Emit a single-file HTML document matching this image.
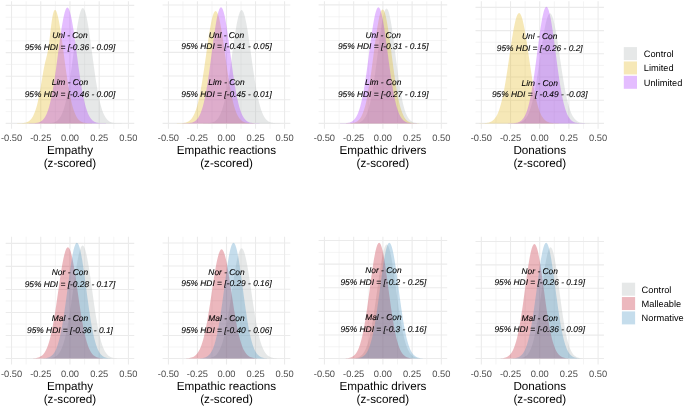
<!DOCTYPE html>
<html lang="en"><head><meta charset="utf-8"><title>Posterior densities</title>
<style>html,body{margin:0;padding:0;background:#fff}body{width:685px;height:406px;overflow:hidden}svg{display:block;will-change:transform}text{text-rendering:geometricPrecision}</style>
</head><body>
<svg width="685" height="406" viewBox="0 0 685 406" font-family="Liberation Sans, sans-serif">
<rect width="685" height="406" fill="#fff"/>
<path d="M26.13 1.3V128.85M55.36 1.3V128.85M84.58 1.3V128.85M113.81 1.3V128.85M5.67 111.6H134.27M5.67 88H134.27M5.67 64.4H134.27M5.67 40.8H134.27M5.67 17.2H134.27" stroke="#ebebeb" stroke-width="0.55" fill="none"/>
<path d="M11.52 1.3V128.85M40.75 1.3V128.85M69.97 1.3V128.85M99.2 1.3V128.85M128.42 1.3V128.85M5.67 123.4H134.27M5.67 99.8H134.27M5.67 76.2H134.27M5.67 52.6H134.27M5.67 29H134.27M5.67 5.4H134.27" stroke="#ebebeb" stroke-width="1.1" fill="none"/>
<path d="M43.64 123.4L43.64 123.38L44.51 123.37L45.38 123.36L46.25 123.35L47.12 123.32L47.99 123.29L48.86 123.25L49.73 123.19L50.6 123.1L51.47 122.99L52.34 122.84L53.21 122.65L54.08 122.4L54.95 122.07L55.82 121.65L56.69 121.11L57.56 120.44L58.43 119.61L59.3 118.58L60.17 117.33L61.05 115.82L61.92 114.02L62.79 111.89L63.66 109.39L64.53 106.51L65.4 103.21L66.27 99.47L67.14 95.28L68.01 90.65L68.88 85.59L69.75 80.13L70.62 74.3L71.49 68.17L72.36 61.82L73.23 55.33L74.1 48.81L74.97 42.38L75.84 36.15L76.71 30.26L77.58 24.83L78.45 20L79.32 15.86L80.19 12.53L81.06 10.09L81.93 8.6L82.8 8.1L83.67 8.6L84.54 10.09L85.41 12.53L86.28 15.86L87.15 20L88.02 24.83L88.89 30.26L89.76 36.15L90.63 42.38L91.5 48.81L92.37 55.33L93.24 61.82L94.11 68.17L94.98 74.3L95.85 80.13L96.72 85.59L97.59 90.65L98.46 95.28L99.33 99.47L100.2 103.21L101.07 106.51L101.94 109.39L102.81 111.89L103.68 114.02L104.55 115.82L105.43 117.33L106.3 118.58L107.17 119.61L108.04 120.44L108.91 121.11L109.78 121.65L110.65 122.07L111.52 122.4L112.39 122.65L113.26 122.84L114.13 122.99L115 123.1L115.87 123.19L116.74 123.25L117.61 123.29L118.48 123.32L119.35 123.35L120.22 123.36L121.09 123.37L121.96 123.38L121.96 123.4Z" fill="rgb(172, 178, 178)" fill-opacity="0.3"/>
<path d="M15.96 123.4L15.96 123.38L16.82 123.38L17.68 123.36L18.54 123.35L19.39 123.32L20.25 123.29L21.11 123.25L21.97 123.19L22.83 123.11L23.69 123L24.55 122.85L25.41 122.66L26.26 122.41L27.12 122.08L27.98 121.66L28.84 121.13L29.7 120.47L30.56 119.64L31.42 118.63L32.27 117.39L33.13 115.89L33.99 114.11L34.85 112L35.71 109.53L36.57 106.67L37.43 103.4L38.29 99.7L39.14 95.57L40 91.02L40.86 86.1L41.72 80.93L42.58 75.71L43.44 70.69L44.3 66.17L45.15 62.28L46.01 58.9L46.87 55.57L47.73 51.59L48.59 46.43L49.45 39.99L50.31 32.73L51.17 25.52L52.02 19.23L52.88 14.44L53.74 11.38L54.6 9.97L55.46 10.01L56.32 11.29L57.18 13.63L58.03 16.9L58.89 20.98L59.75 25.77L60.61 31.15L61.47 36.98L62.33 43.15L63.19 49.52L64.05 55.98L64.9 62.41L65.76 68.7L66.62 74.77L67.48 80.54L68.34 85.95L69.2 90.97L70.06 95.55L70.91 99.7L71.77 103.4L72.63 106.67L73.49 109.53L74.35 112L75.21 114.11L76.07 115.89L76.93 117.39L77.78 118.63L78.64 119.64L79.5 120.47L80.36 121.13L81.22 121.66L82.08 122.08L82.94 122.41L83.79 122.66L84.65 122.85L85.51 123L86.37 123.11L87.23 123.19L88.09 123.25L88.95 123.29L89.81 123.32L90.66 123.35L91.52 123.36L92.38 123.38L93.24 123.38L93.24 123.4Z" fill="rgb(225, 178, 18)" fill-opacity="0.3"/>
<path d="M28.41 123.4L28.41 123.38L29.28 123.37L30.14 123.36L31.01 123.35L31.88 123.32L32.74 123.29L33.61 123.25L34.48 123.19L35.34 123.1L36.21 122.99L37.07 122.84L37.94 122.65L38.81 122.39L39.67 122.06L40.54 121.64L41.41 121.1L42.27 120.43L43.14 119.59L44.01 118.56L44.87 117.3L45.74 115.79L46.61 113.98L47.47 111.84L48.34 109.33L49.2 106.44L50.07 103.12L50.94 99.37L51.8 95.16L52.67 90.51L53.54 85.43L54.4 79.94L55.27 74.09L56.14 67.93L57 61.55L57.87 55.04L58.74 48.49L59.6 42.03L60.47 35.77L61.33 29.86L62.2 24.41L63.07 19.55L63.93 15.4L64.8 12.05L65.67 9.6L66.53 8.1L67.4 7.6L68.27 8.1L69.13 9.6L70 12.05L70.87 15.4L71.73 19.55L72.6 24.41L73.47 29.86L74.33 35.77L75.2 42.03L76.06 48.49L76.93 55.04L77.8 61.55L78.66 67.93L79.53 74.09L80.4 79.94L81.26 85.43L82.13 90.51L83 95.16L83.86 99.37L84.73 103.12L85.6 106.44L86.46 109.33L87.33 111.84L88.19 113.98L89.06 115.79L89.93 117.3L90.79 118.56L91.66 119.59L92.53 120.43L93.39 121.1L94.26 121.64L95.13 122.06L95.99 122.39L96.86 122.65L97.73 122.84L98.59 122.99L99.46 123.1L100.32 123.19L101.19 123.25L102.06 123.29L102.92 123.32L103.79 123.35L104.66 123.36L105.52 123.37L106.39 123.38L106.39 123.4Z" fill="rgb(165, 38, 255)" fill-opacity="0.3"/>
<g font-size="8.4" font-style="italic" fill="#000" stroke="#000" stroke-width="0.1" text-anchor="middle">
<text x="69.97" y="37.9">Unl - Con</text>
<text x="69.97" y="49.7">95% HDI = [-0.36 - 0.09]</text>
<text x="69.97" y="85.1">Lim - Con</text>
<text x="69.97" y="96.9">95% HDI = [-0.46 - 0.00]</text>
</g>
<g font-size="9.3" fill="#4d4d4d" text-anchor="middle">
<text x="11.52" y="140.95">-0.50</text>
<text x="40.75" y="140.95">-0.25</text>
<text x="69.97" y="140.95">0.00</text>
<text x="99.2" y="140.95">0.25</text>
<text x="128.42" y="140.95">0.50</text>
</g>
<g font-size="11.7" fill="#000" text-anchor="middle">
<text x="69.97" y="154.25">Empathy</text>
<text x="69.97" y="166.85">(z-scored)</text>
</g>
<path d="M182.95 1.3V128.85M211.98 1.3V128.85M241.01 1.3V128.85M270.04 1.3V128.85M162.62 111.56H290.37M162.62 87.88H290.37M162.62 64.2H290.37M162.62 40.52H290.37M162.62 16.84H290.37" stroke="#ebebeb" stroke-width="0.55" fill="none"/>
<path d="M168.43 1.3V128.85M197.46 1.3V128.85M226.5 1.3V128.85M255.53 1.3V128.85M284.56 1.3V128.85M162.62 123.4H290.37M162.62 99.72H290.37M162.62 76.04H290.37M162.62 52.36H290.37M162.62 28.68H290.37M162.62 5H290.37" stroke="#ebebeb" stroke-width="1.1" fill="none"/>
<path d="M201.75 123.4L201.75 123.38L202.64 123.38L203.52 123.36L204.41 123.35L205.29 123.33L206.18 123.29L207.06 123.25L207.95 123.19L208.83 123.11L209.72 123L210.61 122.85L211.49 122.66L212.38 122.41L213.26 122.09L214.15 121.68L215.03 121.15L215.92 120.49L216.8 119.67L217.69 118.67L218.58 117.44L219.46 115.95L220.35 114.18L221.23 112.09L222.12 109.64L223 106.8L223.89 103.56L224.77 99.88L225.66 95.77L226.55 91.22L227.43 86.25L228.32 80.88L229.2 75.15L230.09 69.13L230.97 62.89L231.86 56.51L232.74 50.11L233.63 43.78L234.52 37.66L235.4 31.87L236.29 26.54L237.17 21.79L238.06 17.73L238.94 14.46L239.83 12.06L240.71 10.59L241.6 10.1L242.49 10.59L243.37 12.06L244.26 14.46L245.14 17.73L246.03 21.79L246.91 26.54L247.8 31.87L248.68 37.66L249.57 43.78L250.46 50.11L251.34 56.51L252.23 62.89L253.11 69.13L254 75.15L254.88 80.88L255.77 86.25L256.65 91.22L257.54 95.77L258.43 99.88L259.31 103.56L260.2 106.8L261.08 109.64L261.97 112.09L262.85 114.18L263.74 115.95L264.62 117.44L265.51 118.67L266.4 119.67L267.28 120.49L268.17 121.15L269.05 121.68L269.94 122.09L270.82 122.41L271.71 122.66L272.59 122.85L273.48 123L274.37 123.11L275.25 123.19L276.14 123.25L277.02 123.29L277.91 123.33L278.79 123.35L279.68 123.36L280.56 123.38L281.45 123.38L281.45 123.4Z" fill="rgb(172, 178, 178)" fill-opacity="0.3"/>
<path d="M175.43 123.4L175.43 123.38L176.32 123.38L177.22 123.36L178.11 123.35L179 123.33L179.89 123.29L180.79 123.25L181.68 123.19L182.57 123.11L183.46 123L184.36 122.86L185.25 122.67L186.14 122.42L187.04 122.1L187.93 121.69L188.82 121.17L189.71 120.52L190.61 119.7L191.5 118.7L192.39 117.48L193.28 116.01L194.18 114.25L195.07 112.18L195.96 109.75L196.85 106.93L197.75 103.72L198.64 100.07L199.53 95.99L200.43 91.48L201.32 86.54L202.21 81.22L203.1 75.54L204 69.56L204.89 63.37L205.78 57.04L206.67 50.69L207.57 44.41L208.46 38.34L209.35 32.6L210.24 27.31L211.14 22.6L212.03 18.57L212.92 15.32L213.81 12.94L214.71 11.49L215.6 11L216.49 11.49L217.39 12.94L218.28 15.32L219.17 18.57L220.06 22.6L220.96 27.31L221.85 32.6L222.74 38.34L223.63 44.41L224.53 50.69L225.42 57.04L226.31 63.37L227.2 69.56L228.1 75.54L228.99 81.22L229.88 86.54L230.77 91.48L231.67 95.99L232.56 100.07L233.45 103.72L234.35 106.93L235.24 109.75L236.13 112.18L237.02 114.25L237.92 116.01L238.81 117.48L239.7 118.7L240.59 119.7L241.49 120.52L242.38 121.17L243.27 121.69L244.16 122.1L245.06 122.42L245.95 122.67L246.84 122.86L247.74 123L248.63 123.11L249.52 123.19L250.41 123.25L251.31 123.29L252.2 123.33L253.09 123.35L253.98 123.36L254.88 123.38L255.77 123.38L255.77 123.4Z" fill="rgb(225, 178, 18)" fill-opacity="0.3"/>
<path d="M182.11 123.4L182.11 123.38L182.98 123.37L183.84 123.36L184.7 123.35L185.57 123.32L186.43 123.29L187.3 123.25L188.16 123.18L189.02 123.1L189.89 122.99L190.75 122.84L191.62 122.64L192.48 122.39L193.35 122.06L194.21 121.63L195.07 121.1L195.94 120.42L196.8 119.58L197.67 118.55L198.53 117.29L199.4 115.77L200.26 113.95L201.12 111.81L201.99 109.3L202.85 106.39L203.72 103.07L204.58 99.3L205.44 95.09L206.31 90.43L207.17 85.33L208.04 79.83L208.9 73.96L209.77 67.79L210.63 61.39L211.49 54.86L212.36 48.29L213.22 41.81L214.09 35.54L214.95 29.61L215.81 24.15L216.68 19.28L217.54 15.12L218.41 11.76L219.27 9.31L220.14 7.8L221 7.3L221.86 7.8L222.73 9.31L223.59 11.76L224.46 15.12L225.32 19.28L226.19 24.15L227.05 29.61L227.91 35.54L228.78 41.81L229.64 48.29L230.51 54.86L231.37 61.39L232.23 67.79L233.1 73.96L233.96 79.83L234.83 85.33L235.69 90.43L236.56 95.09L237.42 99.3L238.28 103.07L239.15 106.39L240.01 109.3L240.88 111.81L241.74 113.95L242.6 115.77L243.47 117.29L244.33 118.55L245.2 119.58L246.06 120.42L246.93 121.1L247.79 121.63L248.65 122.06L249.52 122.39L250.38 122.64L251.25 122.84L252.11 122.99L252.98 123.1L253.84 123.18L254.7 123.25L255.57 123.29L256.43 123.32L257.3 123.35L258.16 123.36L259.02 123.37L259.89 123.38L259.89 123.4Z" fill="rgb(165, 38, 255)" fill-opacity="0.3"/>
<g font-size="8.4" font-style="italic" fill="#000" stroke="#000" stroke-width="0.1" text-anchor="middle">
<text x="226.5" y="37.6">Unl - Con</text>
<text x="226.5" y="49.44">95% HDI = [-0.41 - 0.05]</text>
<text x="226.5" y="84.96">Lim - Con</text>
<text x="226.5" y="96.8">95% HDI = [-0.45 - 0.01]</text>
</g>
<g font-size="9.3" fill="#4d4d4d" text-anchor="middle">
<text x="168.43" y="140.95">-0.50</text>
<text x="197.46" y="140.95">-0.25</text>
<text x="226.5" y="140.95">0.00</text>
<text x="255.53" y="140.95">0.25</text>
<text x="284.56" y="140.95">0.50</text>
</g>
<g font-size="11.7" fill="#000" text-anchor="middle">
<text x="226.5" y="154.25">Empathic reactions</text>
<text x="226.5" y="166.85">(z-scored)</text>
</g>
<path d="M339.06 1.3V128.85M368.29 1.3V128.85M397.51 1.3V128.85M426.74 1.3V128.85M318.6 111.55H447.19M318.6 87.85H447.19M318.6 64.15H447.19M318.6 40.45H447.19M318.6 16.75H447.19" stroke="#ebebeb" stroke-width="0.55" fill="none"/>
<path d="M324.45 1.3V128.85M353.68 1.3V128.85M382.9 1.3V128.85M412.12 1.3V128.85M441.35 1.3V128.85M318.6 123.4H447.19M318.6 99.7H447.19M318.6 76H447.19M318.6 52.3H447.19M318.6 28.6H447.19M318.6 4.9H447.19" stroke="#ebebeb" stroke-width="1.1" fill="none"/>
<path d="M349.54 123.4L349.54 123.38L350.36 123.37L351.18 123.36L352 123.35L352.83 123.32L353.65 123.29L354.47 123.25L355.29 123.19L356.11 123.1L356.93 122.99L357.75 122.85L358.57 122.65L359.4 122.4L360.22 122.07L361.04 121.65L361.86 121.12L362.68 120.45L363.5 119.62L364.32 118.59L365.15 117.35L365.97 115.84L366.79 114.04L367.61 111.92L368.43 109.43L369.25 106.55L370.07 103.26L370.89 99.53L371.72 95.36L372.54 90.74L373.36 85.69L374.18 80.24L375 74.43L375.82 68.32L376.64 61.98L377.47 55.51L378.29 49.01L379.11 42.59L379.93 36.38L380.75 30.5L381.57 25.09L382.39 20.26L383.21 16.14L384.04 12.82L384.86 10.39L385.68 8.9L386.5 8.4L387.32 8.9L388.14 10.39L388.96 12.82L389.79 16.14L390.61 20.26L391.43 25.09L392.25 30.5L393.07 36.38L393.89 42.59L394.71 49.01L395.53 55.51L396.36 61.98L397.18 68.32L398 74.43L398.82 80.24L399.64 85.69L400.46 90.74L401.28 95.36L402.11 99.53L402.93 103.26L403.75 106.55L404.57 109.43L405.39 111.92L406.21 114.04L407.03 115.84L407.85 117.35L408.68 118.59L409.5 119.62L410.32 120.45L411.14 121.12L411.96 121.65L412.78 122.07L413.6 122.4L414.43 122.65L415.25 122.85L416.07 122.99L416.89 123.1L417.71 123.19L418.53 123.25L419.35 123.29L420.17 123.32L421 123.35L421.82 123.36L422.64 123.37L423.46 123.38L423.46 123.4Z" fill="rgb(172, 178, 178)" fill-opacity="0.3"/>
<path d="M344.8 123.4L344.8 123.38L345.64 123.38L346.48 123.36L347.32 123.35L348.16 123.32L349 123.29L349.84 123.25L350.68 123.19L351.52 123.11L352.36 123L353.2 122.85L354.04 122.66L354.88 122.41L355.72 122.08L356.56 121.67L357.4 121.14L358.24 120.48L359.08 119.65L359.92 118.64L360.76 117.4L361.6 115.91L362.44 114.12L363.28 112.02L364.12 109.55L364.96 106.7L365.8 103.44L366.64 99.74L367.48 95.6L368.32 91.02L369.16 86.02L370 80.61L370.84 74.85L371.68 68.8L372.52 62.51L373.36 56.1L374.2 49.65L375.04 43.29L375.88 37.13L376.72 31.31L377.56 25.94L378.4 21.16L379.24 17.07L380.08 13.78L380.92 11.37L381.76 9.9L382.6 9.4L383.44 9.9L384.28 11.37L385.12 13.78L385.96 17.07L386.8 21.16L387.64 25.94L388.48 31.31L389.32 37.13L390.16 43.29L391 49.65L391.84 56.1L392.68 62.51L393.52 68.8L394.36 74.85L395.2 80.61L396.04 86.02L396.88 91.02L397.72 95.6L398.56 99.74L399.4 103.44L400.24 106.7L401.08 109.55L401.92 112.02L402.76 114.12L403.6 115.91L404.44 117.4L405.28 118.64L406.12 119.65L406.96 120.48L407.8 121.14L408.64 121.67L409.48 122.08L410.32 122.41L411.16 122.66L412 122.85L412.84 123L413.68 123.11L414.52 123.19L415.36 123.25L416.2 123.29L417.04 123.32L417.88 123.35L418.72 123.36L419.56 123.38L420.4 123.38L420.4 123.4Z" fill="rgb(225, 178, 18)" fill-opacity="0.3"/>
<path d="M339.51 123.4L339.51 123.38L340.38 123.37L341.24 123.36L342.1 123.35L342.97 123.32L343.83 123.29L344.7 123.25L345.56 123.18L346.42 123.1L347.29 122.99L348.15 122.84L349.02 122.64L349.88 122.39L350.75 122.06L351.61 121.63L352.47 121.1L353.34 120.42L354.2 119.58L355.07 118.55L355.93 117.29L356.8 115.77L357.66 113.95L358.52 111.81L359.39 109.3L360.25 106.39L361.12 103.07L361.98 99.3L362.84 95.09L363.71 90.43L364.57 85.33L365.44 79.83L366.3 73.96L367.17 67.79L368.03 61.39L368.89 54.86L369.76 48.29L370.62 41.81L371.49 35.54L372.35 29.61L373.21 24.15L374.08 19.28L374.94 15.12L375.81 11.76L376.67 9.31L377.54 7.8L378.4 7.3L379.26 7.8L380.13 9.31L380.99 11.76L381.86 15.12L382.72 19.28L383.59 24.15L384.45 29.61L385.31 35.54L386.18 41.81L387.04 48.29L387.91 54.86L388.77 61.39L389.63 67.79L390.5 73.96L391.36 79.83L392.23 85.33L393.09 90.43L393.96 95.09L394.82 99.3L395.68 103.07L396.55 106.39L397.41 109.3L398.28 111.81L399.14 113.95L400 115.77L400.87 117.29L401.73 118.55L402.6 119.58L403.46 120.42L404.33 121.1L405.19 121.63L406.05 122.06L406.92 122.39L407.78 122.64L408.65 122.84L409.51 122.99L410.38 123.1L411.24 123.18L412.1 123.25L412.97 123.29L413.83 123.32L414.7 123.35L415.56 123.36L416.42 123.37L417.29 123.38L417.29 123.4Z" fill="rgb(165, 38, 255)" fill-opacity="0.3"/>
<g font-size="8.4" font-style="italic" fill="#000" stroke="#000" stroke-width="0.1" text-anchor="middle">
<text x="383.2" y="37.53">Unl - Con</text>
<text x="383.2" y="49.38">95% HDI = [-0.31 - 0.15]</text>
<text x="383.2" y="84.93">Lim - Con</text>
<text x="383.2" y="96.78">95% HDI = [-0.27 - 0.19]</text>
</g>
<g font-size="9.3" fill="#4d4d4d" text-anchor="middle">
<text x="324.45" y="140.95">-0.50</text>
<text x="353.68" y="140.95">-0.25</text>
<text x="382.9" y="140.95">0.00</text>
<text x="412.12" y="140.95">0.25</text>
<text x="441.35" y="140.95">0.50</text>
</g>
<g font-size="11.7" fill="#000" text-anchor="middle">
<text x="382.9" y="154.25">Empathic drivers</text>
<text x="382.9" y="166.85">(z-scored)</text>
</g>
<path d="M495.94 1.3V128.85M525.13 1.3V128.85M554.32 1.3V128.85M583.51 1.3V128.85M475.51 111.8H603.94M475.51 88.6H603.94M475.51 65.4H603.94M475.51 42.2H603.94M475.51 19H603.94" stroke="#ebebeb" stroke-width="0.55" fill="none"/>
<path d="M481.35 1.3V128.85M510.54 1.3V128.85M539.73 1.3V128.85M568.91 1.3V128.85M598.1 1.3V128.85M475.51 123.4H603.94M475.51 100.2H603.94M475.51 77H603.94M475.51 53.8H603.94M475.51 30.6H603.94M475.51 7.4H603.94" stroke="#ebebeb" stroke-width="1.1" fill="none"/>
<path d="M508.99 123.4L508.99 123.38L509.9 123.38L510.81 123.36L511.73 123.35L512.64 123.33L513.55 123.3L514.46 123.25L515.37 123.2L516.28 123.12L517.19 123.01L518.1 122.87L519.02 122.68L519.93 122.44L520.84 122.13L521.75 121.73L522.66 121.22L523.57 120.58L524.48 119.78L525.4 118.8L526.31 117.6L527.22 116.16L528.13 114.44L529.04 112.41L529.95 110.03L530.86 107.27L531.77 104.12L532.69 100.55L533.6 96.55L534.51 92.13L535.42 87.3L536.33 82.08L537.24 76.51L538.15 70.66L539.06 64.6L539.98 58.4L540.89 52.18L541.8 46.03L542.71 40.08L543.62 34.46L544.53 29.28L545.44 24.66L546.35 20.71L547.27 17.53L548.18 15.2L549.09 13.78L550 13.3L550.91 13.78L551.82 15.2L552.73 17.53L553.65 20.71L554.56 24.66L555.47 29.28L556.38 34.46L557.29 40.08L558.2 46.03L559.11 52.18L560.02 58.4L560.94 64.6L561.85 70.66L562.76 76.51L563.67 82.08L564.58 87.3L565.49 92.13L566.4 96.55L567.31 100.55L568.23 104.12L569.14 107.27L570.05 110.03L570.96 112.41L571.87 114.44L572.78 116.16L573.69 117.6L574.6 118.8L575.52 119.78L576.43 120.58L577.34 121.22L578.25 121.73L579.16 122.13L580.07 122.44L580.98 122.68L581.9 122.87L582.81 123.01L583.72 123.12L584.63 123.2L585.54 123.25L586.45 123.3L587.36 123.33L588.27 123.35L589.19 123.36L590.1 123.38L591.01 123.38L591.01 123.4Z" fill="rgb(172, 178, 178)" fill-opacity="0.3"/>
<path d="M478.2 123.4L478.2 123.38L479.11 123.38L480.02 123.36L480.93 123.35L481.84 123.33L482.75 123.3L483.66 123.25L484.56 123.2L485.47 123.12L486.38 123.01L487.29 122.87L488.2 122.68L489.11 122.44L490.02 122.12L490.93 121.72L491.84 121.21L492.74 120.57L493.65 119.77L494.56 118.79L495.47 117.59L496.38 116.14L497.29 114.42L498.2 112.38L499.11 109.99L500.01 107.23L500.92 104.07L501.83 100.49L502.74 96.48L503.65 92.05L504.56 87.2L505.47 81.97L506.38 76.39L507.29 70.52L508.19 64.44L509.1 58.22L510.01 51.98L510.92 45.82L511.83 39.86L512.74 34.22L513.65 29.02L514.56 24.39L515.46 20.43L516.37 17.24L517.28 14.91L518.19 13.48L519.1 13L520.01 13.48L520.92 14.91L521.83 17.24L522.74 20.43L523.64 24.39L524.55 29.02L525.46 34.22L526.37 39.86L527.28 45.82L528.19 51.98L529.1 58.22L530.01 64.44L530.91 70.52L531.82 76.39L532.73 81.97L533.64 87.2L534.55 92.05L535.46 96.48L536.37 100.49L537.28 104.07L538.19 107.23L539.09 109.99L540 112.38L540.91 114.42L541.82 116.14L542.73 117.59L543.64 118.79L544.55 119.77L545.46 120.57L546.36 121.21L547.27 121.72L548.18 122.12L549.09 122.44L550 122.68L550.91 122.87L551.82 123.01L552.73 123.12L553.64 123.2L554.54 123.25L555.45 123.3L556.36 123.33L557.27 123.35L558.18 123.36L559.09 123.38L560 123.38L560 123.4Z" fill="rgb(225, 178, 18)" fill-opacity="0.3"/>
<path d="M507.68 123.4L507.68 123.38L508.54 123.37L509.4 123.36L510.26 123.35L511.12 123.32L511.98 123.29L512.84 123.25L513.7 123.18L514.56 123.1L515.42 122.99L516.28 122.84L517.14 122.64L518 122.38L518.86 122.05L519.72 121.63L520.59 121.09L521.45 120.41L522.31 119.57L523.17 118.53L524.03 117.26L524.89 115.74L525.75 113.91L526.61 111.76L527.47 109.24L528.33 106.32L529.19 102.98L530.05 99.2L530.91 94.97L531.77 90.28L532.63 85.17L533.49 79.64L534.35 73.75L535.21 67.55L536.07 61.13L536.93 54.56L537.8 47.97L538.66 41.46L539.52 35.17L540.38 29.21L541.24 23.72L542.1 18.83L542.96 14.65L543.82 11.28L544.68 8.81L545.54 7.31L546.4 6.8L547.26 7.31L548.12 8.81L548.98 11.28L549.84 14.65L550.7 18.83L551.56 23.72L552.42 29.21L553.28 35.17L554.14 41.46L555 47.97L555.87 54.56L556.73 61.13L557.59 67.55L558.45 73.75L559.31 79.64L560.17 85.17L561.03 90.28L561.89 94.97L562.75 99.2L563.61 102.98L564.47 106.32L565.33 109.24L566.19 111.76L567.05 113.91L567.91 115.74L568.77 117.26L569.63 118.53L570.49 119.57L571.35 120.41L572.21 121.09L573.08 121.63L573.94 122.05L574.8 122.38L575.66 122.64L576.52 122.84L577.38 122.99L578.24 123.1L579.1 123.18L579.96 123.25L580.82 123.29L581.68 123.32L582.54 123.35L583.4 123.36L584.26 123.37L585.12 123.38L585.12 123.4Z" fill="rgb(165, 38, 255)" fill-opacity="0.3"/>
<g font-size="8.4" font-style="italic" fill="#000" stroke="#000" stroke-width="0.1" text-anchor="middle">
<text x="539.73" y="39.4">Unl - Con</text>
<text x="539.73" y="51">95% HDI = [-0.26 - 0.2]</text>
<text x="539.73" y="85.8">Lim - Con</text>
<text x="539.73" y="97.4">95% HDI = [ -0.49 - -0.03]</text>
</g>
<g font-size="9.3" fill="#4d4d4d" text-anchor="middle">
<text x="481.35" y="140.95">-0.50</text>
<text x="510.54" y="140.95">-0.25</text>
<text x="539.73" y="140.95">0.00</text>
<text x="568.91" y="140.95">0.25</text>
<text x="598.1" y="140.95">0.50</text>
</g>
<g font-size="11.7" fill="#000" text-anchor="middle">
<text x="539.73" y="154.25">Donations</text>
<text x="539.73" y="166.85">(z-scored)</text>
</g>
<path d="M26.13 236.75V364.5M55.36 236.75V364.5M84.58 236.75V364.5M113.81 236.75V364.5M5.67 347.03H134.27M5.67 323.99H134.27M5.67 300.95H134.27M5.67 277.91H134.27M5.67 254.87H134.27" stroke="#ebebeb" stroke-width="0.55" fill="none"/>
<path d="M11.52 236.75V364.5M40.75 236.75V364.5M69.97 236.75V364.5M99.2 236.75V364.5M128.42 236.75V364.5M5.67 358.55H134.27M5.67 335.51H134.27M5.67 312.47H134.27M5.67 289.43H134.27M5.67 266.39H134.27M5.67 243.35H134.27" stroke="#ebebeb" stroke-width="1.1" fill="none"/>
<path d="M42.63 358.55L42.63 358.53L43.51 358.53L44.4 358.51L45.29 358.5L46.18 358.48L47.07 358.44L47.96 358.4L48.84 358.34L49.73 358.26L50.62 358.15L51.51 358.01L52.4 357.82L53.29 357.57L54.17 357.24L55.06 356.83L55.95 356.31L56.84 355.65L57.73 354.84L58.62 353.83L59.5 352.6L60.39 351.13L61.28 349.36L62.17 347.27L63.06 344.83L63.95 342L64.83 338.77L65.72 335.11L66.61 331.01L67.5 326.47L68.39 321.51L69.28 316.16L70.16 310.45L71.05 304.45L71.94 298.23L72.83 291.87L73.72 285.48L74.61 279.18L75.49 273.08L76.38 267.31L77.27 261.99L78.16 257.25L79.05 253.2L79.94 249.94L80.82 247.55L81.71 246.09L82.6 245.6L83.49 246.09L84.38 247.55L85.26 249.94L86.15 253.2L87.04 257.25L87.93 261.99L88.82 267.31L89.71 273.08L90.59 279.18L91.48 285.48L92.37 291.87L93.26 298.23L94.15 304.45L95.04 310.45L95.92 316.16L96.81 321.51L97.7 326.47L98.59 331.01L99.48 335.11L100.37 338.77L101.25 342L102.14 344.83L103.03 347.27L103.92 349.36L104.81 351.13L105.7 352.6L106.58 353.83L107.47 354.84L108.36 355.65L109.25 356.31L110.14 356.83L111.03 357.24L111.91 357.57L112.8 357.82L113.69 358.01L114.58 358.15L115.47 358.26L116.36 358.34L117.24 358.4L118.13 358.44L119.02 358.48L119.91 358.5L120.8 358.51L121.69 358.53L122.57 358.53L122.57 358.55Z" fill="rgb(172, 178, 178)" fill-opacity="0.3"/>
<path d="M27.35 358.55L27.35 358.53L28.25 358.53L29.15 358.51L30.06 358.5L30.96 358.48L31.86 358.45L32.76 358.4L33.66 358.34L34.56 358.26L35.46 358.16L36.36 358.01L37.26 357.83L38.16 357.58L39.07 357.26L39.97 356.86L40.87 356.34L41.77 355.69L42.67 354.89L43.57 353.9L44.47 352.69L45.37 351.23L46.27 349.49L47.18 347.43L48.08 345.02L48.98 342.24L49.88 339.05L50.78 335.44L51.68 331.4L52.58 326.93L53.48 322.04L54.38 316.76L55.29 311.13L56.19 305.22L57.09 299.08L57.99 292.81L58.89 286.52L59.79 280.3L60.69 274.29L61.59 268.6L62.49 263.36L63.39 258.69L64.3 254.7L65.2 251.48L66.1 249.12L67 247.68L67.9 247.2L68.8 247.68L69.7 249.12L70.6 251.48L71.5 254.7L72.41 258.69L73.31 263.36L74.21 268.6L75.11 274.29L76.01 280.3L76.91 286.52L77.81 292.81L78.71 299.08L79.61 305.22L80.51 311.13L81.42 316.76L82.32 322.04L83.22 326.93L84.12 331.4L85.02 335.44L85.92 339.05L86.82 342.24L87.72 345.02L88.62 347.43L89.53 349.49L90.43 351.23L91.33 352.69L92.23 353.9L93.13 354.89L94.03 355.69L94.93 356.34L95.83 356.86L96.73 357.26L97.64 357.58L98.54 357.83L99.44 358.01L100.34 358.16L101.24 358.26L102.14 358.34L103.04 358.4L103.94 358.45L104.84 358.48L105.74 358.5L106.65 358.51L107.55 358.53L108.45 358.53L108.45 358.55Z" fill="rgb(192, 20, 40)" fill-opacity="0.3"/>
<path d="M37.89 358.55L37.89 358.53L38.76 358.52L39.63 358.51L40.49 358.5L41.36 358.47L42.23 358.44L43.09 358.4L43.96 358.34L44.83 358.25L45.69 358.14L46.56 357.99L47.43 357.8L48.3 357.54L49.16 357.21L50.03 356.79L50.9 356.25L51.76 355.58L52.63 354.74L53.5 353.71L54.36 352.46L55.23 350.94L56.1 349.13L56.96 346.99L57.83 344.49L58.7 341.59L59.56 338.28L60.43 334.53L61.3 330.32L62.16 325.68L63.03 320.59L63.9 315.11L64.76 309.26L65.63 303.11L66.5 296.73L67.37 290.22L68.23 283.67L69.1 277.21L69.97 270.96L70.83 265.05L71.7 259.6L72.57 254.74L73.43 250.59L74.3 247.25L75.17 244.8L76.03 243.3L76.9 242.8L77.77 243.3L78.63 244.8L79.5 247.25L80.37 250.59L81.23 254.74L82.1 259.6L82.97 265.05L83.83 270.96L84.7 277.21L85.57 283.67L86.43 290.22L87.3 296.73L88.17 303.11L89.04 309.26L89.9 315.11L90.77 320.59L91.64 325.68L92.5 330.32L93.37 334.53L94.24 338.28L95.1 341.59L95.97 344.49L96.84 346.99L97.7 349.13L98.57 350.94L99.44 352.46L100.3 353.71L101.17 354.74L102.04 355.58L102.9 356.25L103.77 356.79L104.64 357.21L105.5 357.54L106.37 357.8L107.24 357.99L108.11 358.14L108.97 358.25L109.84 358.34L110.71 358.4L111.57 358.44L112.44 358.47L113.31 358.5L114.17 358.51L115.04 358.52L115.91 358.53L115.91 358.55Z" fill="rgb(62, 142, 192)" fill-opacity="0.3"/>
<g font-size="8.4" font-style="italic" fill="#000" stroke="#000" stroke-width="0.1" text-anchor="middle">
<text x="69.97" y="275.15">Nor - Con</text>
<text x="69.97" y="286.67">95% HDI = [-0.28 - 0.17]</text>
<text x="69.97" y="321.23">Mal - Con</text>
<text x="69.97" y="332.75">95% HDI = [-0.36 - 0.1]</text>
</g>
<g font-size="9.3" fill="#4d4d4d" text-anchor="middle">
<text x="11.52" y="376.6">-0.50</text>
<text x="40.75" y="376.6">-0.25</text>
<text x="69.97" y="376.6">0.00</text>
<text x="99.2" y="376.6">0.25</text>
<text x="128.42" y="376.6">0.50</text>
</g>
<g font-size="11.7" fill="#000" text-anchor="middle">
<text x="69.97" y="389.9">Empathy</text>
<text x="69.97" y="402.5">(z-scored)</text>
</g>
<path d="M182.95 236.75V364.5M211.98 236.75V364.5M241.01 236.75V364.5M270.04 236.75V364.5M162.62 346.99H290.37M162.62 323.87H290.37M162.62 300.75H290.37M162.62 277.63H290.37M162.62 254.51H290.37" stroke="#ebebeb" stroke-width="0.55" fill="none"/>
<path d="M168.43 236.75V364.5M197.46 236.75V364.5M226.5 236.75V364.5M255.53 236.75V364.5M284.56 236.75V364.5M162.62 358.55H290.37M162.62 335.43H290.37M162.62 312.31H290.37M162.62 289.19H290.37M162.62 266.07H290.37M162.62 242.95H290.37" stroke="#ebebeb" stroke-width="1.1" fill="none"/>
<path d="M200.65 358.55L200.65 358.53L201.56 358.53L202.47 358.51L203.38 358.5L204.29 358.48L205.2 358.45L206.11 358.4L207.02 358.35L207.93 358.27L208.84 358.16L209.75 358.02L210.66 357.83L211.57 357.59L212.48 357.28L213.39 356.87L214.3 356.36L215.21 355.72L216.12 354.92L217.03 353.94L217.94 352.75L218.85 351.3L219.76 349.58L220.67 347.54L221.58 345.16L222.49 342.4L223.4 339.24L224.31 335.67L225.22 331.67L226.13 327.24L227.04 322.4L227.95 317.17L228.86 311.6L229.77 305.74L230.68 299.67L231.59 293.46L232.5 287.23L233.41 281.08L234.32 275.12L235.23 269.49L236.14 264.3L237.05 259.67L237.96 255.72L238.87 252.54L239.78 250.2L240.69 248.78L241.6 248.3L242.51 248.78L243.42 250.2L244.33 252.54L245.24 255.72L246.15 259.67L247.06 264.3L247.97 269.49L248.88 275.12L249.79 281.08L250.7 287.23L251.61 293.46L252.52 299.67L253.43 305.74L254.34 311.6L255.25 317.17L256.16 322.4L257.07 327.24L257.98 331.67L258.89 335.67L259.8 339.24L260.71 342.4L261.62 345.16L262.53 347.54L263.44 349.58L264.35 351.3L265.26 352.75L266.17 353.94L267.08 354.92L267.99 355.72L268.9 356.36L269.81 356.87L270.72 357.28L271.63 357.59L272.54 357.83L273.45 358.02L274.36 358.16L275.27 358.27L276.18 358.35L277.09 358.4L278 358.45L278.91 358.48L279.82 358.5L280.73 358.51L281.64 358.53L282.55 358.53L282.55 358.55Z" fill="rgb(172, 178, 178)" fill-opacity="0.3"/>
<path d="M180.27 358.55L180.27 358.53L181.19 358.53L182.11 358.52L183.03 358.5L183.95 358.48L184.86 358.45L185.78 358.41L186.7 358.35L187.62 358.27L188.54 358.16L189.46 358.02L190.37 357.84L191.29 357.6L192.21 357.29L193.13 356.89L194.05 356.38L194.97 355.75L195.89 354.96L196.8 353.98L197.72 352.8L198.64 351.37L199.56 349.66L200.48 347.64L201.4 345.28L202.31 342.55L203.23 339.42L204.15 335.87L205.07 331.91L205.99 327.52L206.91 322.73L207.82 317.55L208.74 312.03L209.66 306.22L210.58 300.2L211.5 294.05L212.42 287.88L213.33 281.78L214.25 275.88L215.17 270.3L216.09 265.15L217.01 260.57L217.93 256.65L218.84 253.5L219.76 251.19L220.68 249.77L221.6 249.3L222.52 249.77L223.44 251.19L224.36 253.5L225.27 256.65L226.19 260.57L227.11 265.15L228.03 270.3L228.95 275.88L229.87 281.78L230.78 287.88L231.7 294.05L232.62 300.2L233.54 306.22L234.46 312.03L235.38 317.55L236.29 322.73L237.21 327.52L238.13 331.91L239.05 335.87L239.97 339.42L240.89 342.55L241.8 345.28L242.72 347.64L243.64 349.66L244.56 351.37L245.48 352.8L246.4 353.98L247.31 354.96L248.23 355.75L249.15 356.38L250.07 356.89L250.99 357.29L251.91 357.6L252.83 357.84L253.74 358.02L254.66 358.16L255.58 358.27L256.5 358.35L257.42 358.41L258.34 358.45L259.25 358.48L260.17 358.5L261.09 358.52L262.01 358.53L262.93 358.53L262.93 358.55Z" fill="rgb(192, 20, 40)" fill-opacity="0.3"/>
<path d="M194.49 358.55L194.49 358.53L195.36 358.52L196.23 358.51L197.09 358.5L197.96 358.47L198.83 358.44L199.69 358.4L200.56 358.34L201.43 358.25L202.29 358.14L203.16 357.99L204.03 357.8L204.9 357.54L205.76 357.21L206.63 356.79L207.5 356.25L208.36 355.58L209.23 354.74L210.1 353.71L210.96 352.46L211.83 350.94L212.7 349.13L213.56 346.99L214.43 344.49L215.3 341.59L216.16 338.28L217.03 334.53L217.9 330.32L218.76 325.68L219.63 320.59L220.5 315.11L221.36 309.26L222.23 303.11L223.1 296.73L223.97 290.22L224.83 283.67L225.7 277.21L226.57 270.96L227.43 265.05L228.3 259.6L229.17 254.74L230.03 250.59L230.9 247.25L231.77 244.8L232.63 243.3L233.5 242.8L234.37 243.3L235.23 244.8L236.1 247.25L236.97 250.59L237.83 254.74L238.7 259.6L239.57 265.05L240.43 270.96L241.3 277.21L242.17 283.67L243.03 290.22L243.9 296.73L244.77 303.11L245.64 309.26L246.5 315.11L247.37 320.59L248.24 325.68L249.1 330.32L249.97 334.53L250.84 338.28L251.7 341.59L252.57 344.49L253.44 346.99L254.3 349.13L255.17 350.94L256.04 352.46L256.9 353.71L257.77 354.74L258.64 355.58L259.5 356.25L260.37 356.79L261.24 357.21L262.1 357.54L262.97 357.8L263.84 357.99L264.71 358.14L265.57 358.25L266.44 358.34L267.31 358.4L268.17 358.44L269.04 358.47L269.91 358.5L270.77 358.51L271.64 358.52L272.51 358.53L272.51 358.55Z" fill="rgb(62, 142, 192)" fill-opacity="0.3"/>
<g font-size="8.4" font-style="italic" fill="#000" stroke="#000" stroke-width="0.1" text-anchor="middle">
<text x="226.5" y="274.85">Nor - Con</text>
<text x="226.5" y="286.41">95% HDI = [-0.29 - 0.16]</text>
<text x="226.5" y="321.09">Mal - Con</text>
<text x="226.5" y="332.65">95% HDI = [-0.40 - 0.06]</text>
</g>
<g font-size="9.3" fill="#4d4d4d" text-anchor="middle">
<text x="168.43" y="376.6">-0.50</text>
<text x="197.46" y="376.6">-0.25</text>
<text x="226.5" y="376.6">0.00</text>
<text x="255.53" y="376.6">0.25</text>
<text x="284.56" y="376.6">0.50</text>
</g>
<g font-size="11.7" fill="#000" text-anchor="middle">
<text x="226.5" y="389.9">Empathic reactions</text>
<text x="226.5" y="402.5">(z-scored)</text>
</g>
<path d="M339.06 236.75V364.5M368.29 236.75V364.5M397.51 236.75V364.5M426.74 236.75V364.5M318.6 346.75H447.19M318.6 323.15H447.19M318.6 299.55H447.19M318.6 275.95H447.19M318.6 252.35H447.19" stroke="#ebebeb" stroke-width="0.55" fill="none"/>
<path d="M324.45 236.75V364.5M353.68 236.75V364.5M382.9 236.75V364.5M412.12 236.75V364.5M441.35 236.75V364.5M318.6 358.55H447.19M318.6 334.95H447.19M318.6 311.35H447.19M318.6 287.75H447.19M318.6 264.15H447.19M318.6 240.55H447.19" stroke="#ebebeb" stroke-width="1.1" fill="none"/>
<path d="M347.11 358.55L347.11 358.53L347.99 358.53L348.87 358.51L349.75 358.5L350.63 358.47L351.51 358.44L352.39 358.4L353.27 358.34L354.15 358.26L355.03 358.15L355.91 358L356.79 357.81L357.67 357.56L358.55 357.23L359.43 356.82L360.31 356.29L361.19 355.62L362.07 354.8L362.95 353.78L363.83 352.55L364.71 351.05L365.59 349.27L366.47 347.16L367.35 344.7L368.23 341.84L369.11 338.58L369.99 334.88L370.86 330.74L371.74 326.16L372.62 321.15L373.5 315.75L374.38 309.98L375.26 303.92L376.14 297.64L377.02 291.22L377.9 284.77L378.78 278.41L379.66 272.25L380.54 266.42L381.42 261.05L382.3 256.27L383.18 252.18L384.06 248.88L384.94 246.47L385.82 245L386.7 244.5L387.58 245L388.46 246.47L389.34 248.88L390.22 252.18L391.1 256.27L391.98 261.05L392.86 266.42L393.74 272.25L394.62 278.41L395.5 284.77L396.38 291.22L397.26 297.64L398.14 303.92L399.02 309.98L399.9 315.75L400.78 321.15L401.66 326.16L402.54 330.74L403.41 334.88L404.29 338.58L405.17 341.84L406.05 344.7L406.93 347.16L407.81 349.27L408.69 351.05L409.57 352.55L410.45 353.78L411.33 354.8L412.21 355.62L413.09 356.29L413.97 356.82L414.85 357.23L415.73 357.56L416.61 357.81L417.49 358L418.37 358.15L419.25 358.26L420.13 358.34L421.01 358.4L421.89 358.44L422.77 358.47L423.65 358.5L424.53 358.51L425.41 358.53L426.29 358.53L426.29 358.55Z" fill="rgb(172, 178, 178)" fill-opacity="0.3"/>
<path d="M340.09 358.55L340.09 358.53L340.96 358.52L341.83 358.51L342.69 358.5L343.56 358.47L344.43 358.44L345.29 358.4L346.16 358.34L347.03 358.25L347.89 358.14L348.76 357.99L349.63 357.8L350.5 357.54L351.36 357.21L352.23 356.79L353.1 356.25L353.96 355.58L354.83 354.74L355.7 353.71L356.56 352.46L357.43 350.94L358.3 349.13L359.16 346.99L360.03 344.49L360.9 341.59L361.76 338.28L362.63 334.53L363.5 330.32L364.36 325.68L365.23 320.59L366.1 315.11L366.96 309.26L367.83 303.11L368.7 296.73L369.57 290.22L370.43 283.67L371.3 277.21L372.17 270.96L373.03 265.05L373.9 259.6L374.77 254.74L375.63 250.59L376.5 247.25L377.37 244.8L378.23 243.3L379.1 242.8L379.97 243.3L380.83 244.8L381.7 247.25L382.57 250.59L383.43 254.74L384.3 259.6L385.17 265.05L386.03 270.96L386.9 277.21L387.77 283.67L388.63 290.22L389.5 296.73L390.37 303.11L391.24 309.26L392.1 315.11L392.97 320.59L393.84 325.68L394.7 330.32L395.57 334.53L396.44 338.28L397.3 341.59L398.17 344.49L399.04 346.99L399.9 349.13L400.77 350.94L401.64 352.46L402.5 353.71L403.37 354.74L404.24 355.58L405.1 356.25L405.97 356.79L406.84 357.21L407.7 357.54L408.57 357.8L409.44 357.99L410.31 358.14L411.17 358.25L412.04 358.34L412.91 358.4L413.77 358.44L414.64 358.47L415.51 358.5L416.37 358.51L417.24 358.52L418.11 358.53L418.11 358.55Z" fill="rgb(192, 20, 40)" fill-opacity="0.3"/>
<path d="M350.29 358.55L350.29 358.53L351.16 358.52L352.03 358.51L352.89 358.5L353.76 358.47L354.63 358.44L355.49 358.4L356.36 358.34L357.23 358.25L358.09 358.14L358.96 357.99L359.83 357.8L360.7 357.54L361.56 357.21L362.43 356.79L363.3 356.25L364.16 355.58L365.03 354.74L365.9 353.71L366.76 352.46L367.63 350.94L368.5 349.13L369.36 346.99L370.23 344.49L371.1 341.59L371.96 338.28L372.83 334.53L373.7 330.32L374.56 325.68L375.43 320.59L376.3 315.11L377.16 309.26L378.03 303.11L378.9 296.73L379.77 290.22L380.63 283.67L381.5 277.21L382.37 270.96L383.23 265.05L384.1 259.6L384.97 254.74L385.83 250.59L386.7 247.25L387.57 244.8L388.43 243.3L389.3 242.8L390.17 243.3L391.03 244.8L391.9 247.25L392.77 250.59L393.63 254.74L394.5 259.6L395.37 265.05L396.23 270.96L397.1 277.21L397.97 283.67L398.83 290.22L399.7 296.73L400.57 303.11L401.44 309.26L402.3 315.11L403.17 320.59L404.04 325.68L404.9 330.32L405.77 334.53L406.64 338.28L407.5 341.59L408.37 344.49L409.24 346.99L410.1 349.13L410.97 350.94L411.84 352.46L412.7 353.71L413.57 354.74L414.44 355.58L415.3 356.25L416.17 356.79L417.04 357.21L417.9 357.54L418.77 357.8L419.64 357.99L420.51 358.14L421.37 358.25L422.24 358.34L423.11 358.4L423.97 358.44L424.84 358.47L425.71 358.5L426.57 358.51L427.44 358.52L428.31 358.53L428.31 358.55Z" fill="rgb(62, 142, 192)" fill-opacity="0.3"/>
<g font-size="8.4" font-style="italic" fill="#000" stroke="#000" stroke-width="0.1" text-anchor="middle">
<text x="383.4" y="273.05">Nor - Con</text>
<text x="383.4" y="284.85">95% HDI = [-0.2 - 0.25]</text>
<text x="383.4" y="320.25">Mal - Con</text>
<text x="383.4" y="332.05">95% HDI = [-0.3 - 0.16]</text>
</g>
<g font-size="9.3" fill="#4d4d4d" text-anchor="middle">
<text x="324.45" y="376.6">-0.50</text>
<text x="353.68" y="376.6">-0.25</text>
<text x="382.9" y="376.6">0.00</text>
<text x="412.12" y="376.6">0.25</text>
<text x="441.35" y="376.6">0.50</text>
</g>
<g font-size="11.7" fill="#000" text-anchor="middle">
<text x="382.9" y="389.9">Empathic drivers</text>
<text x="382.9" y="402.5">(z-scored)</text>
</g>
<path d="M495.94 236.75V364.5M525.13 236.75V364.5M554.32 236.75V364.5M583.51 236.75V364.5M475.51 346.84H603.94M475.51 323.42H603.94M475.51 300H603.94M475.51 276.58H603.94M475.51 253.16H603.94" stroke="#ebebeb" stroke-width="0.55" fill="none"/>
<path d="M481.35 236.75V364.5M510.54 236.75V364.5M539.73 236.75V364.5M568.91 236.75V364.5M598.1 236.75V364.5M475.51 358.55H603.94M475.51 335.13H603.94M475.51 311.71H603.94M475.51 288.29H603.94M475.51 264.87H603.94M475.51 241.45H603.94" stroke="#ebebeb" stroke-width="1.1" fill="none"/>
<path d="M513.12 358.55L513.12 358.53L513.95 358.53L514.78 358.51L515.61 358.5L516.44 358.48L517.27 358.45L518.1 358.4L518.93 358.34L519.77 358.26L520.6 358.16L521.43 358.01L522.26 357.83L523.09 357.58L523.92 357.26L524.75 356.86L525.58 356.34L526.41 355.69L527.24 354.89L528.07 353.9L528.9 352.69L529.73 351.23L530.56 349.49L531.39 347.43L532.23 345.02L533.06 342.24L533.89 339.05L534.72 335.44L535.55 331.4L536.38 326.93L537.21 322.04L538.04 316.76L538.87 311.13L539.7 305.22L540.53 299.08L541.36 292.81L542.19 286.52L543.02 280.3L543.85 274.29L544.69 268.6L545.52 263.36L546.35 258.69L547.18 254.7L548.01 251.48L548.84 249.12L549.67 247.68L550.5 247.2L551.33 247.68L552.16 249.12L552.99 251.48L553.82 254.7L554.65 258.69L555.48 263.36L556.31 268.6L557.15 274.29L557.98 280.3L558.81 286.52L559.64 292.81L560.47 299.08L561.3 305.22L562.13 311.13L562.96 316.76L563.79 322.04L564.62 326.93L565.45 331.4L566.28 335.44L567.11 339.05L567.94 342.24L568.77 345.02L569.61 347.43L570.44 349.49L571.27 351.23L572.1 352.69L572.93 353.9L573.76 354.89L574.59 355.69L575.42 356.34L576.25 356.86L577.08 357.26L577.91 357.58L578.74 357.83L579.57 358.01L580.4 358.16L581.23 358.26L582.07 358.34L582.9 358.4L583.73 358.45L584.56 358.48L585.39 358.5L586.22 358.51L587.05 358.53L587.88 358.53L587.88 358.55Z" fill="rgb(172, 178, 178)" fill-opacity="0.3"/>
<path d="M495.02 358.55L495.02 358.53L495.89 358.53L496.77 358.51L497.64 358.5L498.52 358.47L499.39 358.44L500.27 358.4L501.15 358.34L502.02 358.26L502.9 358.14L503.77 358L504.65 357.8L505.52 357.55L506.4 357.22L507.27 356.81L508.15 356.28L509.02 355.61L509.9 354.78L510.77 353.76L511.65 352.52L512.52 351.01L513.4 349.22L514.27 347.1L515.15 344.62L516.02 341.75L516.9 338.47L517.77 334.75L518.65 330.59L519.52 325.99L520.4 320.96L521.27 315.52L522.15 309.73L523.02 303.63L523.9 297.32L524.77 290.87L525.65 284.38L526.52 277.98L527.4 271.79L528.27 265.93L529.15 260.54L530.02 255.73L530.9 251.62L531.77 248.31L532.65 245.88L533.52 244.4L534.4 243.9L535.28 244.4L536.15 245.88L537.03 248.31L537.9 251.62L538.78 255.73L539.65 260.54L540.53 265.93L541.4 271.79L542.28 277.98L543.15 284.38L544.03 290.87L544.9 297.32L545.78 303.63L546.65 309.73L547.53 315.52L548.4 320.96L549.28 325.99L550.15 330.59L551.03 334.75L551.9 338.47L552.78 341.75L553.65 344.62L554.53 347.1L555.4 349.22L556.28 351.01L557.15 352.52L558.03 353.76L558.9 354.78L559.78 355.61L560.65 356.28L561.53 356.81L562.4 357.22L563.28 357.55L564.15 357.8L565.03 358L565.9 358.14L566.78 358.26L567.65 358.34L568.53 358.4L569.41 358.44L570.28 358.47L571.16 358.5L572.03 358.51L572.91 358.53L573.78 358.53L573.78 358.55Z" fill="rgb(192, 20, 40)" fill-opacity="0.3"/>
<path d="M507.09 358.55L507.09 358.53L507.96 358.52L508.83 358.51L509.69 358.5L510.56 358.47L511.43 358.44L512.29 358.4L513.16 358.34L514.03 358.25L514.89 358.14L515.76 357.99L516.63 357.8L517.5 357.54L518.36 357.21L519.23 356.79L520.1 356.25L520.96 355.58L521.83 354.74L522.7 353.71L523.56 352.46L524.43 350.94L525.3 349.13L526.16 346.99L527.03 344.49L527.9 341.59L528.76 338.28L529.63 334.53L530.5 330.32L531.36 325.68L532.23 320.59L533.1 315.11L533.96 309.26L534.83 303.11L535.7 296.73L536.57 290.22L537.43 283.67L538.3 277.21L539.17 270.96L540.03 265.05L540.9 259.6L541.77 254.74L542.63 250.59L543.5 247.25L544.37 244.8L545.23 243.3L546.1 242.8L546.97 243.3L547.83 244.8L548.7 247.25L549.57 250.59L550.43 254.74L551.3 259.6L552.17 265.05L553.03 270.96L553.9 277.21L554.77 283.67L555.63 290.22L556.5 296.73L557.37 303.11L558.24 309.26L559.1 315.11L559.97 320.59L560.84 325.68L561.7 330.32L562.57 334.53L563.44 338.28L564.3 341.59L565.17 344.49L566.04 346.99L566.9 349.13L567.77 350.94L568.64 352.46L569.5 353.71L570.37 354.74L571.24 355.58L572.1 356.25L572.97 356.79L573.84 357.21L574.7 357.54L575.57 357.8L576.44 357.99L577.31 358.14L578.17 358.25L579.04 358.34L579.91 358.4L580.77 358.44L581.64 358.47L582.51 358.5L583.37 358.51L584.24 358.52L585.11 358.53L585.11 358.55Z" fill="rgb(62, 142, 192)" fill-opacity="0.3"/>
<g font-size="8.4" font-style="italic" fill="#000" stroke="#000" stroke-width="0.1" text-anchor="middle">
<text x="539.73" y="273.73">Nor - Con</text>
<text x="539.73" y="285.44">95% HDI = [-0.26 - 0.19]</text>
<text x="539.73" y="320.56">Mal - Con</text>
<text x="539.73" y="332.28">95% HDI = [-0.36 - 0.09]</text>
</g>
<g font-size="9.3" fill="#4d4d4d" text-anchor="middle">
<text x="481.35" y="376.6">-0.50</text>
<text x="510.54" y="376.6">-0.25</text>
<text x="539.73" y="376.6">0.00</text>
<text x="568.91" y="376.6">0.25</text>
<text x="598.1" y="376.6">0.50</text>
</g>
<g font-size="11.7" fill="#000" text-anchor="middle">
<text x="539.73" y="389.9">Donations</text>
<text x="539.73" y="402.5">(z-scored)</text>
</g>
<g font-size="9.25" fill="#000">
<rect x="623.8" y="47.1" width="13.2" height="13.0" fill="rgb(172, 178, 178)" fill-opacity="0.3"/>
<text x="643.8" y="56.9">Control</text>
<rect x="623.8" y="61.45" width="13.2" height="13.0" fill="rgb(225, 178, 18)" fill-opacity="0.3"/>
<text x="643.8" y="71.25">Limited</text>
<rect x="623.8" y="75.8" width="13.2" height="13.0" fill="rgb(165, 38, 255)" fill-opacity="0.3"/>
<text x="643.8" y="85.6">Unlimited</text>
</g>
<g font-size="9.25" fill="#000">
<rect x="621.9" y="282.7" width="13.2" height="13.0" fill="rgb(172, 178, 178)" fill-opacity="0.3"/>
<text x="641.6" y="292.5">Control</text>
<rect x="621.9" y="297.05" width="13.2" height="13.0" fill="rgb(192, 20, 40)" fill-opacity="0.3"/>
<text x="641.6" y="306.85">Malleable</text>
<rect x="621.9" y="311.4" width="13.2" height="13.0" fill="rgb(62, 142, 192)" fill-opacity="0.3"/>
<text x="641.6" y="321.2">Normative</text>
</g>
</svg>
</body></html>
